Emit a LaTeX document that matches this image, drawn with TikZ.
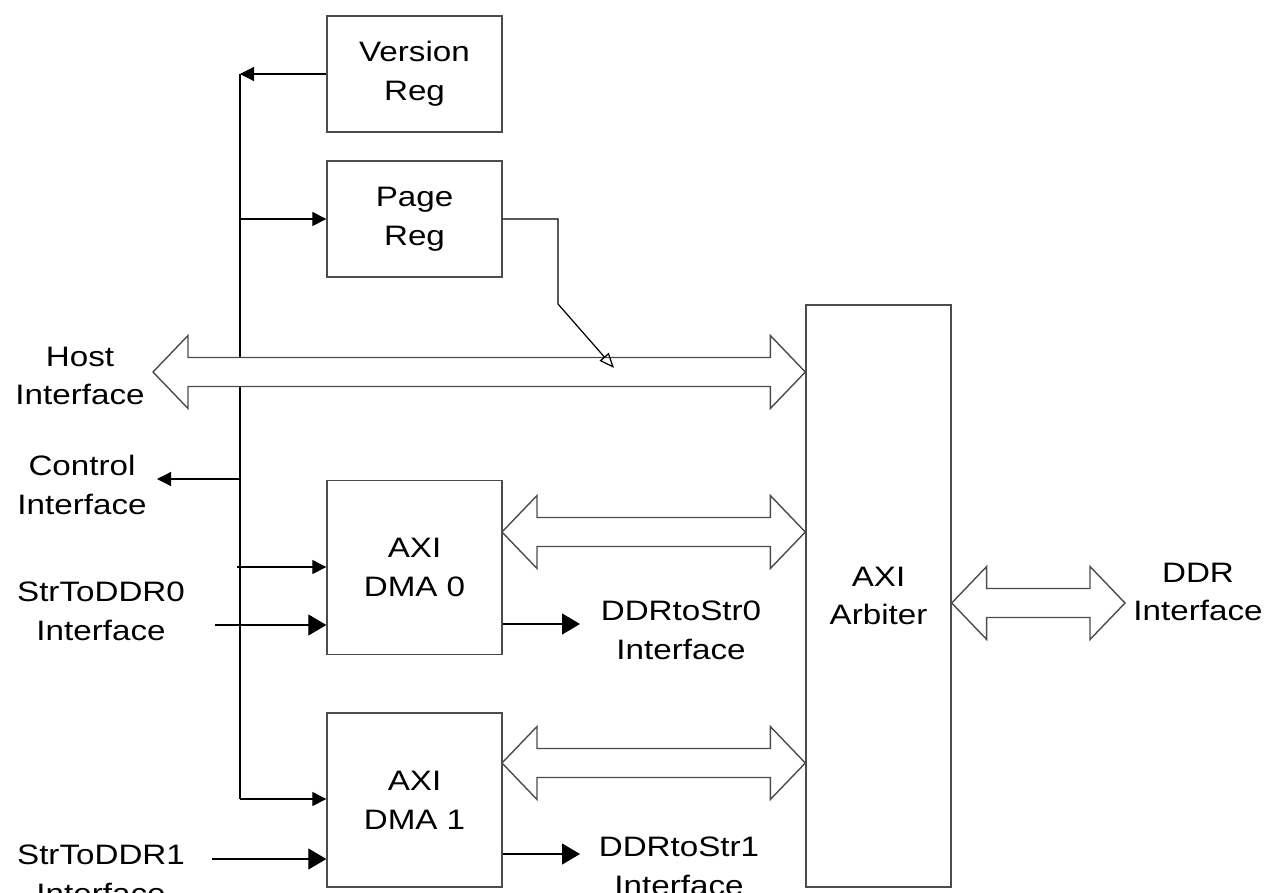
\documentclass[tikz,border=0pt]{standalone}
\usepackage{fontspec}
\setmainfont{Liberation Sans}[FakeStretch=1.18]
\usetikzlibrary{arrows.meta,calc}

\newcommand{\dbus}[2]{%
  \draw[bus] let \p1=#1, \p2=#2 in
    (\x1,\y1) -- ++(0.7cm,0.73cm) -- ++(0,-0.44cm) -- (\x2-0.7cm,\y1+0.29cm)
    -- ++(0,0.44cm) -- (\x2,\y1) -- ++(-0.7cm,-0.73cm) -- ++(0,0.44cm)
    -- (\x1+0.7cm,\y1-0.29cm) -- ++(0,-0.44cm) -- cycle;}

\begin{document}
\begin{tikzpicture}[x=0.02cm,y=-0.02cm,
  font=\fontsize{16pt}{22pt}\selectfont,
  block/.style={draw=black!70,line width=0.8pt,inner sep=0pt,align=center,minimum width=3.5cm},
  lbl/.style={align=center,inner sep=0pt},
  bus/.style={draw=black!70,line width=0.8pt,fill=white},
  wire/.style={line width=0.7pt},
  tap/.style={wire,-{Triangle[length=0.28cm,width=0.28cm]}},
  big/.style={wire,-{Triangle[length=0.36cm,width=0.42cm]}}]
\useasboundingbox (0,0) rectangle (1270,892);

\node[block,minimum height=2.32cm] (ver) at (414.5,74) {Version\\Reg};
\node[block,minimum height=2.32cm] (page) at (414.5,219) {Page\\Reg};

\node[block,minimum height=3.48cm] (dma0) at (414.5,567.5) {AXI\\DMA 0};
\node[block,minimum height=3.48cm] (dma1) at (414.5,800) {AXI\\DMA 1};

\node[block,minimum width=2.9cm,minimum height=11.64cm] (arb) at (878.5,596) {AXI\\Arbiter};

\node[lbl] (host) at (80,376) {Host\\Interface};
\node[lbl] (ctrl) at (82,485) {Control\\Interface};
\node[lbl] (s2d0) at (101,611) {StrToDDR0\\Interface};
\node[lbl] (s2d1) at (101,874) {StrToDDR1\\Interface};
\node[lbl] (d2s0) at (681,630) {DDRtoStr0\\Interface};
\node[lbl] (d2s1) at (679,866) {DDRtoStr1\\Interface};
\node[lbl] (ddr) at (1198,592) {DDR\\Interface};

\coordinate (bt) at (240,74);
\coordinate (bb) at (240,799);
\coordinate (ctlend) at (157,479);
\coordinate (hostend) at (153,372);
\coordinate (b0) at (502,532);
\coordinate (b1) at (502,763);
\coordinate (ddrend) at (1125,603);
\coordinate (in0a) at (237,567);
\coordinate (in0b) at (215,625);
\coordinate (in1b) at (212,859);
\coordinate (out0) at (580,624);
\coordinate (out1) at (580,854);
\coordinate (pgbend) at (558,304);
\coordinate (pgtip) at (614,368);

\draw[wire] (bt) -- (bb);
\draw[tap] (ver.west) -- (bt);
\draw[tap] (bt |- page.west) -- (page.west);
\draw[tap] (bt |- ctlend) -- (ctlend);

\dbus{(hostend)}{(hostend -| arb.west)}
\dbus{(b0)}{(b0 -| arb.west)}
\dbus{(b1)}{(b1 -| arb.west)}
\dbus{(ddrend -| arb.east)}{(ddrend)}

\draw[wire,-{Triangle[open,length=0.3cm,width=0.24cm]}] (page.east) -| (pgbend) -- (pgtip);

\draw[tap] (in0a) -- (in0a -| dma0.west);
\draw[big] (in0b) -- (in0b -| dma0.west);
\draw[tap] (bb) -- (bb -| dma1.west);
\draw[big] (in1b) -- (in1b -| dma1.west);

\draw[big] (out0 -| dma0.east) -- (out0);
\draw[big] (out1 -| dma1.east) -- (out1);
\end{tikzpicture}
\end{document}
